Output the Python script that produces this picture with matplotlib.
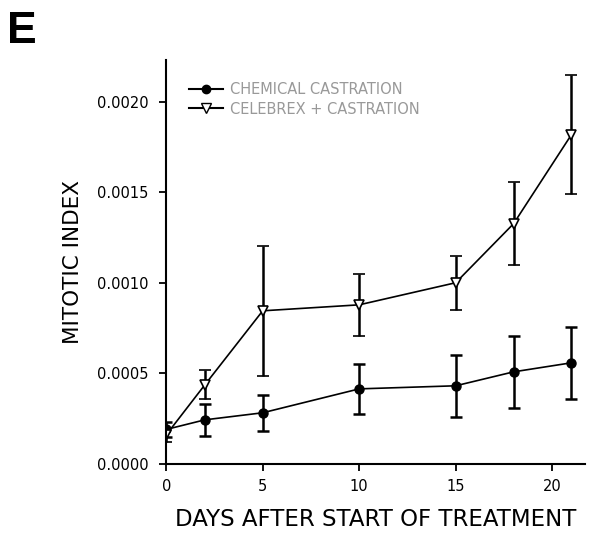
import numpy as np
import matplotlib
matplotlib.use("Agg")
import matplotlib.pyplot as plt
from matplotlib.lines import Line2D

plt.rcParams['font.family'] = ['DejaVu Sans']

days = [0, 2, 5, 10, 15, 18, 21]

# chemical castration
chem = [0.00019, 0.000243, 0.000282, 0.000414, 0.000431, 0.000508, 0.000558]
chem_err = [0.00004, 0.00009, 0.0001, 0.00014, 0.00017, 0.0002, 0.0002]

# celebrex + castration
cele = [0.00016, 0.000436, 0.000845, 0.000878, 0.001, 0.001326, 0.001818]
cele_err = [0.00004, 0.00008, 0.00036, 0.00017, 0.00015, 0.00023, 0.00033]

yticks = [0.0, 0.0005, 0.0010, 0.0015, 0.0020]
xticks = [0, 5, 10, 15, 20]
labels = ['CHEMICAL CASTRATION', 'CELEBREX + CASTRATION']


def main():
    fig = plt.figure(figsize=(6, 5.4), dpi=100)
    ax = fig.add_axes([0.277, 0.141, 0.698, 0.748])

    ax.errorbar(days, chem, yerr=chem_err, color='black', lw=1.2,
                marker='o', ms=6.5, mfc='black', mec='black',
                elinewidth=1.8, capsize=4, capthick=1.8)
    ax.errorbar(days, cele, yerr=cele_err, color='black', lw=1.2,
                marker='v', ms=7.5, mfc='white', mec='black', mew=1.2,
                elinewidth=1.8, capsize=4, capthick=1.8)

    ax.set_xlim(0, 21.7)
    ax.set_ylim(0, 0.00223)
    ax.set_xticks(xticks)
    ax.set_yticks(yticks)
    ax.set_yticklabels(['%.4f' % v for v in yticks])
    ax.tick_params(direction='out', length=5, width=1.3, labelsize=10.5)
    ax.tick_params(axis='y', pad=8)
    ax.tick_params(axis='x', pad=6)

    for s in ['top', 'right']:
        ax.spines[s].set_visible(False)
    for s in ['left', 'bottom']:
        ax.spines[s].set_linewidth(1.5)

    ax.set_xlabel('DAYS AFTER START OF TREATMENT', fontsize=16.5, labelpad=10)
    ax.set_ylabel('MITOTIC INDEX', fontsize=15.5, labelpad=10)

    handles = [
        Line2D([], [], color='black', lw=1.5, marker='o', ms=6, mfc='black'),
        Line2D([], [], color='black', lw=1.5, marker='v', ms=7, mfc='white'),
    ]
    leg = ax.legend(handles, labels, loc='upper left', bbox_to_anchor=(0.055, 0.945),
                    frameon=False, fontsize=10.5, handlelength=2.3, handletextpad=0.5,
                    labelspacing=0.3, borderaxespad=0, borderpad=0)
    for t in leg.get_texts():
        t.set_color('#999999')

    fig.text(0.012, 0.98, 'E', fontsize=32, fontweight='bold', va='top', ha='left',
             family='Liberation Sans')

    fig.savefig('out.png', dpi=100)


if __name__ == '__main__':
    main()
